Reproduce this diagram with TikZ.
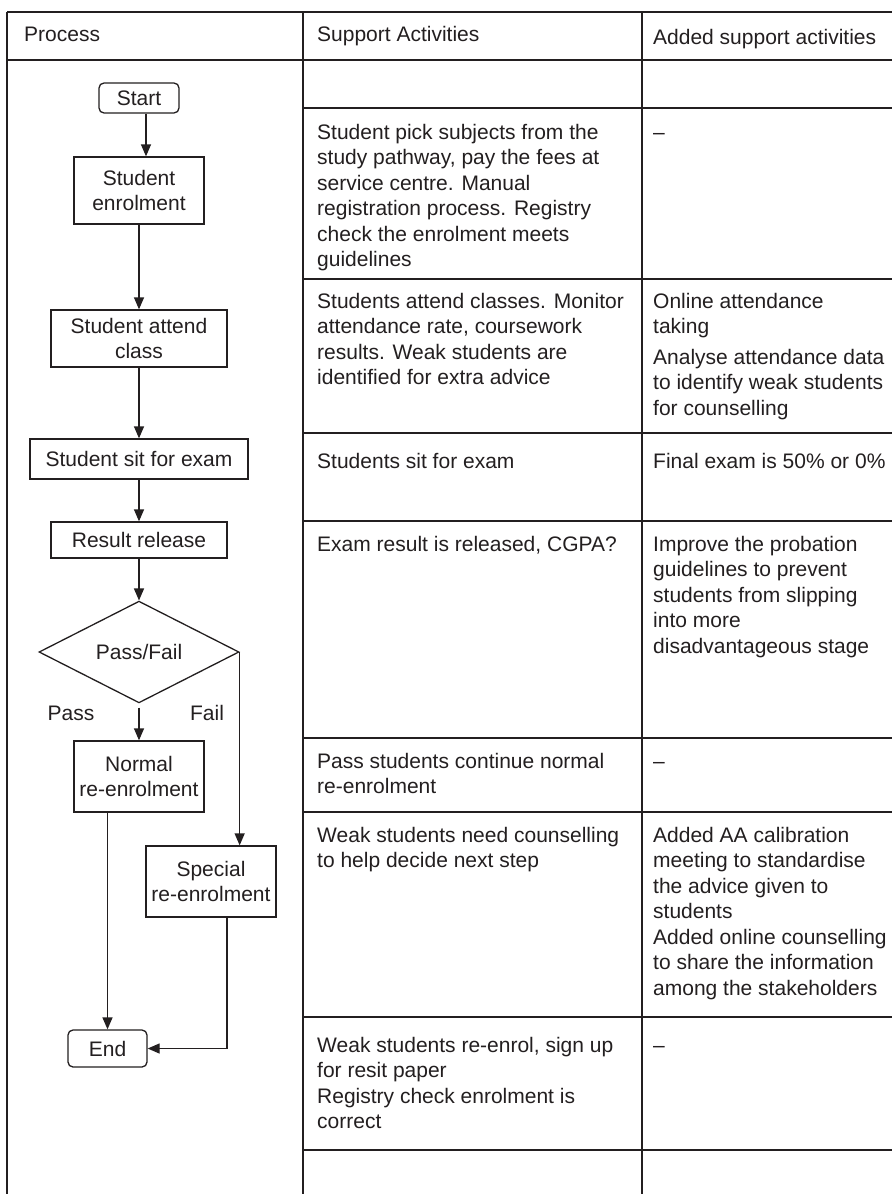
\documentclass[tikz,border=0pt]{standalone}
\usepackage{fontspec}
\setmainfont{Liberation Sans}
\usetikzlibrary{shapes.geometric,arrows.meta}
\definecolor{ink}{RGB}{35,31,32}
\newcommand\celltext[1]{\begin{minipage}[t]{322pt}\raggedright #1\end{minipage}}
\begin{document}
\begin{tikzpicture}[x=1pt,y=-1pt,
  every node/.style={text=ink,font=\fontsize{21}{25.5}\selectfont},
  box/.style={draw=ink,line width=1.3pt,rectangle,inner sep=0pt,align=center},
  term/.style={box,rounded corners=5pt},
  arr/.style={draw=ink,line width=1.3pt,-{Triangle[length=12pt,width=10pt]}},
  gridline/.style={draw=ink,line width=1.5pt},
  rowline/.style={draw=ink,line width=2.4pt},
  cell/.style={anchor=base west,inner sep=0pt},
]
\useasboundingbox (0,0) rectangle (892,1194);
\fill[white] (0,0) rectangle (892,1194);

% table frame
\draw[gridline] (7,12) -- (892,12);
\draw[gridline] (7,60) -- (892,60);
\draw[gridline] (7,12) -- (7,1194);
\draw[gridline] (303,12) -- (303,1194);
\draw[gridline] (642,12) -- (642,1194);
\foreach \yy in {108,279,433,521,738,812,1017,1150}
  \draw[rowline] (303,\yy) -- (892,\yy);

% headers
\node[cell] (h1) at (24,41) {Process};
\node[cell] (h2) at (317,41) {Support Activities};
\node[cell] (h3) at (653,44) {Added support activities};

% support activities
\node[cell] (s2) at (317,139) {\celltext{Student pick subjects from the\\study pathway, pay the fees at\\service centre. Manual\\registration process. Registry\\check the enrolment meets\\guidelines}};
\node[cell] (a2) at (653,139) {\celltext{--}};
\node[cell] (s3) at (317,308) {\celltext{Students attend classes. Monitor\\attendance rate, coursework\\results. Weak students are\\identified for extra advice}};
\node[cell] (a3) at (653,308) {\celltext{Online attendance\\taking\\[5pt]Analyse attendance data\\to identify weak students\\for counselling}};
\node[cell] (s4) at (317,468) {\celltext{Students sit for exam}};
\node[cell] (a4) at (653,468) {\celltext{Final exam is 50\% or 0\%}};
\node[cell] (s5) at (317,551) {\celltext{Exam result is released, CGPA?}};
\node[cell] (a5) at (653,551) {\celltext{Improve the probation\\guidelines to prevent\\students from slipping\\into more\\disadvantageous stage}};
\node[cell] (s6) at (317,768) {\celltext{Pass students continue normal\\re-enrolment}};
\node[cell] (a6) at (653,768) {\celltext{--}};
\node[cell] (s7) at (317,842) {\celltext{Weak students need counselling\\to help decide next step}};
\node[cell] (a7) at (653,842) {\celltext{Added AA calibration\\meeting to standardise\\the advice given to\\students\\Added online counselling\\to share the information\\among the stakeholders}};
\node[cell] (s8) at (317,1052) {\celltext{Weak students re-enrol, sign up\\for resit paper\\Registry check enrolment is\\correct}};
\node[cell] (a8) at (653,1052) {\celltext{--}};

% flowchart
\node[term,minimum width=80pt,minimum height=30pt] (start) at (139,98) {Start};
\node[box,minimum width=130pt,minimum height=67pt] (enrol) at (139,190.5) {Student\\enrolment};
\node[box,minimum width=176pt,minimum height=57pt] (attend) at (139,338.5) {Student attend\\class};
\node[box,minimum width=218pt,minimum height=40pt] (sit) at (139,459) {Student sit for exam};
\node[box,minimum width=176pt,minimum height=36pt] (result) at (139,540) {Result release};
\node[draw=ink,line width=1.3pt,diamond,inner sep=0pt,minimum width=200pt,minimum height=96pt] (dec) at (139,652) {Pass/Fail};
\node[box,minimum width=130pt,minimum height=71pt] (normal) at (139,776.5) {Normal\\re-enrolment};
\node[box,minimum width=130pt,minimum height=71pt] (special) at (211,881.5) {Special\\re-enrolment};
\node[term,minimum width=79pt,minimum height=37pt] (end) at (107.5,1048.5) {End};
\node (pass) at (71,713) {Pass};
\node (fail) at (207,713) {Fail};

\coordinate (ax) at (146,0);
\coordinate (sx) at (227,0);
\draw[arr] (start.south -| ax) -- (enrol.north -| ax);
\draw[arr] (enrol.south) -- (attend.north);
\draw[arr] (attend.south) -- (sit.north);
\draw[arr] (sit.south) -- (result.north);
\draw[arr] (result.south) -- (dec.north);
\draw[arr] ([yshift=-4pt]dec.south) -- (normal.north);
\draw[arr] (dec.east) -- (dec.east |- special.north);
\draw[arr] (normal.south -| end.north) -- (end.north);
\draw[arr] (special.south -| sx) |- (end.east);
\end{tikzpicture}
\end{document}
